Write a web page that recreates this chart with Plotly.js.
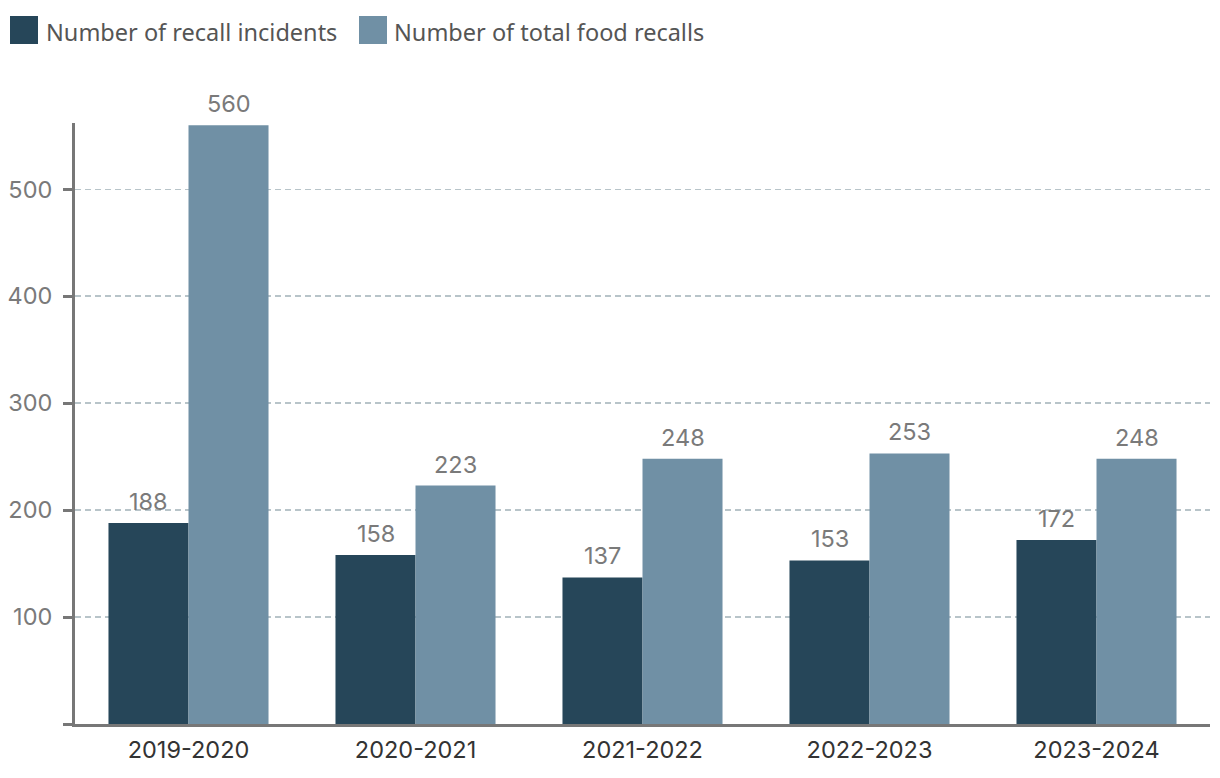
<!DOCTYPE html>
<html>
<head>
<meta charset="utf-8">
<script src="https://cdn.plot.ly/plotly-3.0.1.min.js"></script>
<style>html,body{margin:0;padding:0;background:#fff;}#chart{width:1220px;height:778px;}</style>
</head>
<body>
<div id="chart"></div>
<script>
const categories = ["2019-2020", "2020-2021", "2021-2022", "2022-2023", "2023-2024"];
const seriesNames = ["Number of recall incidents", "Number of total food recalls"];
const recallIncidents = [188, 158, 137, 153, 172];
const totalFoodRecalls = [560, 223, 248, 253, 248];
const yTickVals = [0, 100, 200, 300, 400, 500];
const yTickText = ["", "100", "200", "300", "400", "500"];

const colors = ["#264659", "#7090a5"];
const FONT = "Noto Sans, Open Sans, sans-serif";
const NUMFONT = "Inter, Noto Sans, sans-serif";

// plot area in pixels
const L = 75, R = 10, T = 123, B = 54, W = 1220, H = 778;
const pw = W - L - R, ph = H - T - B;
const px = x => (x - L) / pw;
const py = y => (H - B - y) / ph;

const traces = [
  { type: "bar", name: seriesNames[0], x: categories, y: recallIncidents,
    marker: { color: colors[0] }, hoverinfo: "x+y" },
  { type: "bar", name: seriesNames[1], x: categories, y: totalFoodRecalls,
    marker: { color: colors[1] }, hoverinfo: "x+y" }
];

const annotations = [];
[recallIncidents, totalFoodRecalls].forEach((vals, si) => {
  vals.forEach((v, i) => {
    annotations.push({
      x: categories[i], y: v, xref: "x", yref: "y",
      text: String(v), showarrow: false,
      xanchor: "center", yanchor: "bottom",
      xshift: si === 0 ? -40 : 40, yshift: 5,
      font: { family: NUMFONT, size: 23.5, color: "#7a7a7a" }
    });
  });
});

// manual legend
const legendItems = [
  { sq: [10, 38], tx: 44 },
  { sq: [359, 387], tx: 392 }
];
const shapes = [];
legendItems.forEach((it, i) => {
  shapes.push({
    type: "rect", xref: "paper", yref: "paper",
    x0: px(it.sq[0]), x1: px(it.sq[1]), y0: py(44), y1: py(16),
    fillcolor: colors[i], line: { width: 0 }
  });
  annotations.push({
    xref: "paper", yref: "paper", x: px(it.tx), y: py(32),
    xanchor: "left", yanchor: "middle", showarrow: false,
    text: seriesNames[i],
    font: { family: FONT, size: 23.5, color: "#555555" }
  });
});

const layout = {
  width: W, height: H,
  margin: { l: L, r: R, t: T, b: B, pad: 0 },
  paper_bgcolor: "#ffffff", plot_bgcolor: "#ffffff",
  showlegend: false,
  barmode: "group",
  bargap: 0.295, bargroupgap: 0,
  font: { family: FONT },
  xaxis: {
    type: "category",
    showline: true, linecolor: "#777777", linewidth: 3,
    ticks: "", showgrid: false, zeroline: false,
    tickfont: { family: NUMFONT, size: 23.5, color: "#333333" },
    ticklabelstandoff: 3
  },
  yaxis: {
    range: [0, 562],
    tickvals: yTickVals, ticktext: yTickText,
    showline: true, linecolor: "#777777", linewidth: 3,
    ticks: "outside", ticklen: 9, tickwidth: 3, tickcolor: "#777777",
    showgrid: true, gridcolor: "#b8c4c9", gridwidth: 1.5, griddash: "6px,4px",
    zeroline: false,
    tickfont: { family: NUMFONT, size: 23.5, color: "#7a7a7a" },
    ticklabelstandoff: 6
  },
  shapes: shapes,
  annotations: annotations
};

Plotly.newPlot("chart", traces, layout, { displayModeBar: false, staticPlot: true });
</script>
</body>
</html>
